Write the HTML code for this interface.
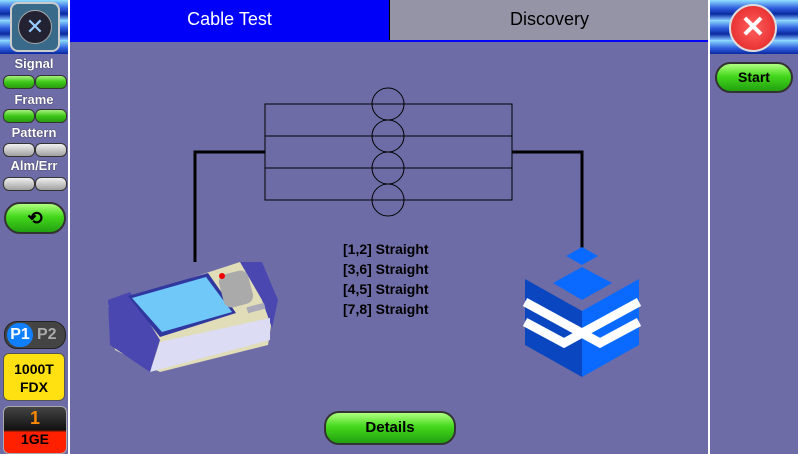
<!DOCTYPE html>
<html><head><style>
body{margin:0;width:798px;height:454px;overflow:hidden;background:#6e6ca6;font-family:"Liberation Sans",sans-serif;position:relative}
.a{position:absolute}
.lbl{color:#fff;font-weight:bold;font-size:13px;text-align:center;width:68px;left:0;text-shadow:0 0 1px #000}
.led{position:absolute;width:30px;height:12px;border-radius:6px;border:1px solid #333}
.g{background:linear-gradient(#a8f080,#3cc818 50%,#2a9a10)}
.gr{background:linear-gradient(#f0f0f0,#c8c8c8 50%,#a0a0a0)}
.btn{background:linear-gradient(#b0ff80,#44d81c 45%,#22a010);border:2px solid #333;border-radius:16px;text-align:center;font-weight:bold}
.t{font-weight:bold;font-size:14px;color:#000;left:343px}
</style></head><body>
<div class="a" style="left:0;top:0;width:68px;height:54px;background:repeating-linear-gradient(#90e0ff 0,#3060e0 8px,#0a2aa0 14px,#80c0ff 20px)"></div>
<div class="a" style="left:10px;top:2px;width:46px;height:46px;border-radius:8px;background:#3a6a8a;border:2px solid #ccc"><div style="margin:6px;width:32px;height:32px;border-radius:50%;background:#223;border:1px solid #aaa;color:#9cf;font-size:22px;text-align:center;line-height:32px">✕</div></div>
<div class="a" style="left:68px;top:0;width:2px;height:454px;background:#fff"></div>
<div class="a lbl" style="top:56px">Signal</div>
<div class="led g" style="left:3px;top:75px"></div><div class="led g" style="left:35px;top:75px"></div>
<div class="a lbl" style="top:92px">Frame</div>
<div class="led g" style="left:3px;top:109px"></div><div class="led g" style="left:35px;top:109px"></div>
<div class="a lbl" style="top:125px">Pattern</div>
<div class="led gr" style="left:3px;top:143px"></div><div class="led gr" style="left:35px;top:143px"></div>
<div class="a lbl" style="top:158px">Alm/Err</div>
<div class="led gr" style="left:3px;top:177px"></div><div class="led gr" style="left:35px;top:177px"></div>
<div class="a btn" style="left:4px;top:202px;width:58px;height:28px;font-size:18px;line-height:28px">⟲</div>
<div class="a" style="left:4px;top:321px;width:60px;height:26px;border-radius:13px;background:#444;border:1px solid #222"><div style="position:absolute;left:2px;top:1px;width:26px;height:24px;border-radius:12px;background:#1080ff;color:#fff;font-weight:bold;font-size:16px;text-align:center;line-height:24px">P1</div><div style="position:absolute;left:32px;top:1px;color:#aaa;font-weight:bold;font-size:16px;line-height:24px">P2</div></div>
<div class="a" style="left:3px;top:353px;width:62px;height:48px;border-radius:6px;background:#ffe010;border:1px solid #555;text-align:center;font-weight:bold;font-size:14px;line-height:18px;padding-top:6px;box-sizing:border-box">1000T<br>FDX</div>
<div class="a" style="left:3px;top:406px;width:62px;height:46px;border-radius:6px;background:linear-gradient(#444 0,#111 50%,#ff2000 55%);border:1px solid #aaa;text-align:center;font-weight:bold"><div style="color:#f80;font-size:18px;line-height:22px">1</div><div style="font-size:14px;line-height:20px">1GE</div></div>

<div class="a" style="left:70px;top:0;width:319px;height:40px;background:#0000fa;color:#fff;font-size:18px;text-align:center;line-height:38px">Cable Test</div>
<div class="a" style="left:389px;top:0;width:319px;height:40px;background:#9494a6;font-size:18px;text-align:center;line-height:38px;border-left:1px solid #000">Discovery</div>
<div class="a" style="left:70px;top:40px;width:638px;height:2px;background:#0000fa"></div>

<div class="a" style="left:708px;top:0;width:2px;height:454px;background:#fff"></div>
<div class="a" style="left:710px;top:0;width:88px;height:54px;background:repeating-linear-gradient(#90e0ff 0,#3060e0 8px,#0a2aa0 14px,#80c0ff 20px)"></div>
<div class="a" style="left:729px;top:4px;width:44px;height:44px;border-radius:50%;background:radial-gradient(#ff6060,#e02020);border:2px solid #ddd;color:#fff;font-size:30px;text-align:center;line-height:44px;font-weight:bold">✕</div>
<div class="a btn" style="left:715px;top:62px;width:74px;height:27px;font-size:14px;line-height:27px">Start</div>

<svg class="a" style="left:0;top:0" width="798" height="454">
<g fill="none" stroke="#000" stroke-width="1">
<rect x="265" y="104" width="247" height="96"/>
<line x1="265" y1="136" x2="512" y2="136"/><line x1="265" y1="168" x2="512" y2="168"/>
<circle cx="388" cy="104" r="16"/><circle cx="388" cy="136" r="16"/><circle cx="388" cy="168" r="16"/><circle cx="388" cy="200" r="16"/>
</g>
<polyline points="265,152 195,152 195,262" fill="none" stroke="#000" stroke-width="3"/>
<polyline points="512,152 582,152 582,250" fill="none" stroke="#000" stroke-width="3"/>
<polygon points="582,247 598,256 582,265 566,256" fill="#0a6aff"/>
<polygon points="582,267 612,283 582,300 553,283" fill="#0a6aff"/>
<polygon points="525,279 582,311 582,377 525,345" fill="#0a46c0"/>
<polygon points="582,311 639,279 639,345 582,377" fill="#0a6aff"/>
<polyline points="525,302 600,343 639,322" fill="none" stroke="#fff" stroke-width="9"/>
<polyline points="639,302 564,343 525,322" fill="none" stroke="#fff" stroke-width="9"/>
<!-- device -->
<polygon points="108,305 240,262 262,268 272,320 268,345 160,372 115,350" fill="#e0ddb8"/>
<polygon points="240,262 262,262 278,300 272,328 262,300" fill="#4a48b0"/>
<polygon points="108,300 130,292 160,340 150,372 110,345" fill="#4a48b0"/>
<polygon points="128,296 208,273 236,313 160,337" fill="#3038a0"/>
<polygon points="132,298 206,277 232,312 162,332" fill="#70c8f8"/>
<polygon points="150,372 270,340 270,318 160,342" fill="#dcdcf4"/>
<rect x="221" y="272" width="30" height="34" rx="8" fill="#aaa" transform="rotate(-15 236 289)"/>
<circle cx="222" cy="276" r="3" fill="#e00"/>
<rect x="247" y="305" width="18" height="6" fill="#aab" transform="rotate(-15 256 308)"/>
</svg>
<div class="a t" style="top:241px">[1,2] Straight</div>
<div class="a t" style="top:261px">[3,6] Straight</div>
<div class="a t" style="top:281px">[4,5] Straight</div>
<div class="a t" style="top:301px">[7,8] Straight</div>
<div class="a btn" style="left:324px;top:411px;width:128px;height:30px;font-size:15px;line-height:30px;border-radius:15px">Details</div>
</body></html>
